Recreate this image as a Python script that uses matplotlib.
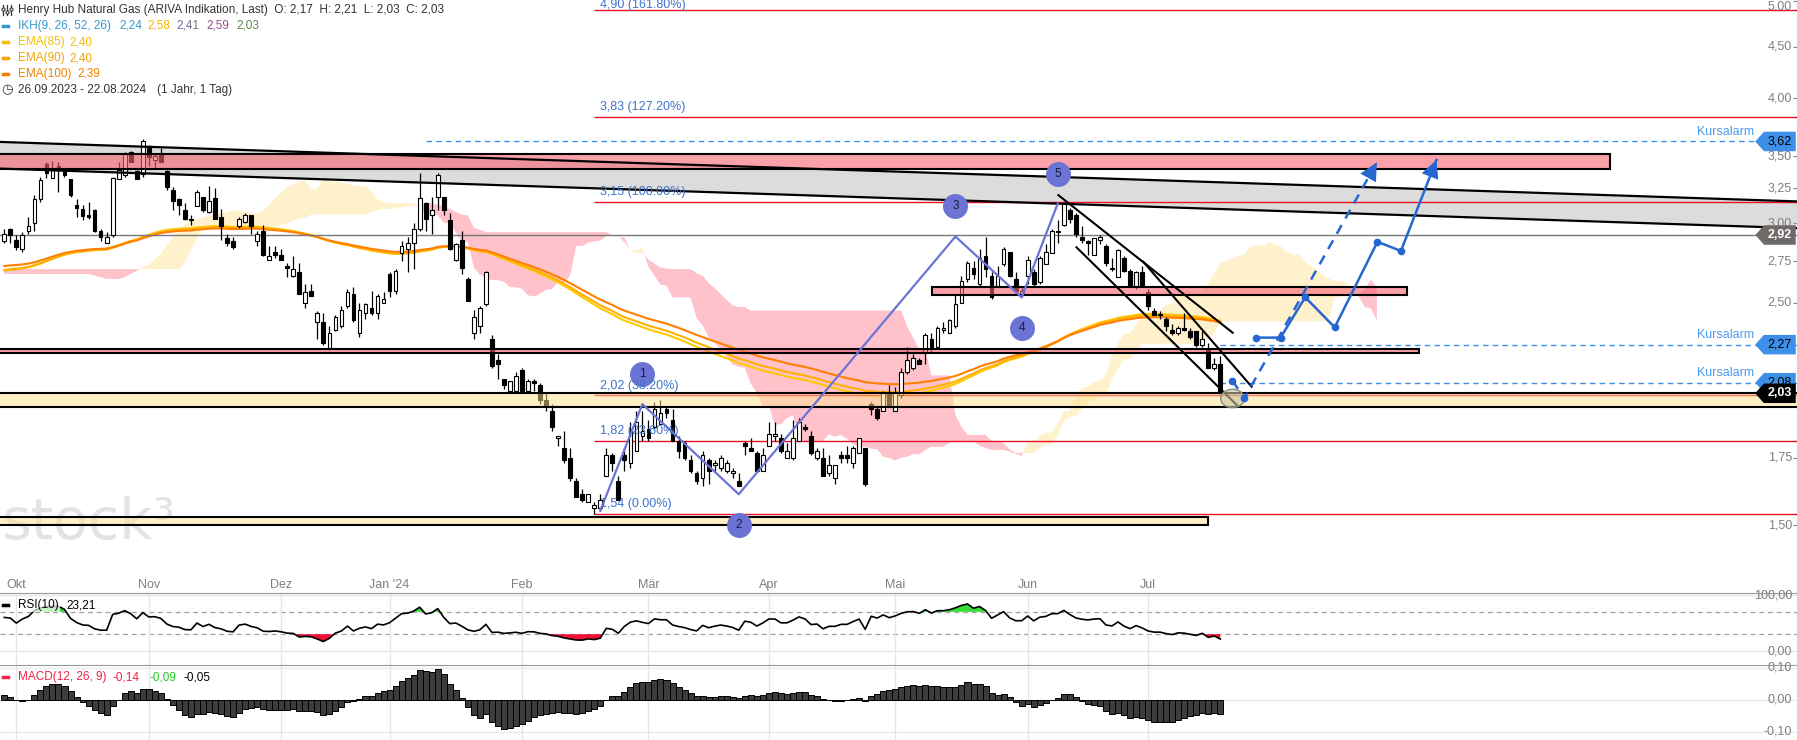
"""Henry Hub Natural Gas daily chart with IKH cloud, EMAs, RSI and MACD panels."""
import numpy as np
import pandas as pd
import matplotlib
matplotlib.use("Agg")
import matplotlib.pyplot as plt
from matplotlib.lines import Line2D
from matplotlib.patches import Rectangle
from matplotlib.path import Path
from matplotlib.ticker import NullLocator
from matplotlib.transforms import Affine2D, blended_transform_factory

plt.rcParams['font.family'] = ['Liberation Sans', 'DejaVu Sans']

# ---------------- daily OHLC ----------------
opens = [
    2.88, 2.96, 2.89, 2.83, 2.95, 3.00, 3.17, 3.44, 3.33, 3.42,
    3.38, 3.32, 3.13, 3.10, 3.06, 3.09, 2.95, 2.87, 2.92, 3.32,
    3.35, 3.53, 3.38, 3.36, 3.57, 3.47, 3.52, 3.38, 3.24, 3.17,
    3.09, 3.03, 3.12, 3.19, 3.08, 3.18, 3.04, 2.90, 2.88, 2.98,
    3.01, 3.06, 2.88, 2.95, 2.76, 2.81, 2.79, 2.72, 2.66, 2.68,
    2.50, 2.57, 2.39, 2.39, 2.25, 2.35, 2.37, 2.48, 2.55, 2.33,
    2.44, 2.47, 2.44, 2.50, 2.67, 2.57, 2.80, 2.83, 2.87, 2.96,
    3.14, 3.06, 3.19, 3.19, 3.02, 2.76, 2.89, 2.64, 2.33, 2.37,
    2.49, 2.30, 2.19, 2.10, 2.04, 2.04, 2.14, 2.04, 2.09, 2.07,
    2.00, 1.95, 1.83, 1.79, 1.75, 1.66, 1.61, 1.58, 1.56, 1.56,
    1.68, 1.76, 1.66, 1.76, 1.73, 1.78, 1.84, 1.87, 1.88, 1.89,
    1.96, 1.91, 1.82, 1.81, 1.74, 1.69, 1.67, 1.74, 1.72, 1.71,
    1.70, 1.69, 1.66, 1.81, 1.79, 1.77, 1.70, 1.80, 1.84, 1.83,
    1.75, 1.75, 1.82, 1.88, 1.84, 1.75, 1.75, 1.69, 1.67, 1.76,
    1.76, 1.73, 1.77, 1.79, 1.98, 1.96, 1.95, 2.03, 1.95, 2.02,
    2.13, 2.15, 2.19, 2.23, 2.30, 2.26, 2.35, 2.33, 2.37, 2.50,
    2.64, 2.71, 2.61, 2.78, 2.66, 2.59, 2.73, 2.81, 2.64, 2.55,
    2.66, 2.68, 2.62, 2.73, 2.80, 2.94, 2.99, 3.09, 3.06, 2.91,
    2.88, 2.79, 2.89, 2.85, 2.70, 2.65, 2.77, 2.69, 2.60, 2.68,
    2.56, 2.45, 2.43, 2.41, 2.35, 2.33, 2.36, 2.34, 2.34, 2.27,
    2.25, 2.15, 2.17]
highs = [
    2.96, 2.97, 2.92, 2.94, 3.04, 3.20, 3.34, 3.45, 3.46, 3.45,
    3.38, 3.32, 3.17, 3.13, 3.15, 3.10, 2.96, 2.94, 3.34, 3.45,
    3.53, 3.54, 3.39, 3.64, 3.59, 3.52, 3.57, 3.39, 3.26, 3.18,
    3.14, 3.06, 3.24, 3.19, 3.27, 3.25, 3.10, 2.93, 2.91, 3.04,
    3.07, 3.06, 2.95, 2.99, 2.85, 2.85, 2.83, 2.74, 2.78, 2.74,
    2.61, 2.61, 2.45, 2.44, 2.37, 2.43, 2.48, 2.58, 2.59, 2.50,
    2.50, 2.57, 2.55, 2.56, 2.68, 2.70, 2.88, 2.91, 3.00, 3.37,
    3.15, 3.19, 3.37, 3.19, 3.07, 2.87, 2.95, 2.65, 2.46, 2.48,
    2.69, 2.32, 2.22, 2.10, 2.09, 2.13, 2.15, 2.10, 2.10, 2.08,
    2.03, 1.98, 1.84, 1.86, 1.79, 1.67, 1.63, 1.61, 1.58, 1.61,
    1.79, 1.77, 1.68, 1.79, 1.90, 1.95, 1.95, 1.91, 1.99, 2.00,
    1.97, 1.96, 1.84, 1.82, 1.76, 1.70, 1.78, 1.75, 1.74, 1.76,
    1.74, 1.71, 1.69, 1.82, 1.83, 1.78, 1.79, 1.90, 1.90, 1.85,
    1.81, 1.91, 1.92, 1.89, 1.86, 1.79, 1.79, 1.76, 1.72, 1.78,
    1.80, 1.80, 1.83, 1.79, 1.99, 1.97, 2.04, 2.07, 2.06, 2.15,
    2.26, 2.22, 2.20, 2.33, 2.33, 2.37, 2.39, 2.41, 2.55, 2.66,
    2.75, 2.75, 2.83, 2.91, 2.68, 2.72, 2.84, 2.81, 2.68, 2.60,
    2.78, 2.70, 2.78, 2.86, 2.96, 3.02, 3.15, 3.11, 3.07, 2.98,
    2.89, 2.90, 2.92, 2.86, 2.77, 2.83, 2.78, 2.70, 2.69, 2.72,
    2.58, 2.47, 2.45, 2.42, 2.38, 2.37, 2.44, 2.36, 2.34, 2.34,
    2.28, 2.20, 2.21]
lows = [
    2.87, 2.87, 2.82, 2.81, 2.93, 2.95, 3.15, 3.33, 3.33, 3.22,
    3.34, 3.19, 3.04, 3.02, 3.03, 2.94, 2.88, 2.87, 2.91, 3.32,
    3.34, 3.45, 3.32, 3.34, 3.42, 3.40, 3.45, 3.24, 3.09, 3.06,
    3.02, 2.99, 3.12, 3.08, 3.07, 3.03, 2.89, 2.85, 2.83, 2.97,
    3.00, 2.93, 2.85, 2.78, 2.76, 2.77, 2.76, 2.65, 2.65, 2.55,
    2.47, 2.54, 2.30, 2.27, 2.24, 2.34, 2.36, 2.47, 2.39, 2.31,
    2.41, 2.43, 2.41, 2.50, 2.53, 2.55, 2.75, 2.68, 2.70, 2.95,
    2.95, 2.93, 3.09, 3.06, 2.82, 2.75, 2.67, 2.51, 2.30, 2.33,
    2.48, 2.15, 2.10, 2.05, 2.04, 2.03, 2.03, 2.03, 2.04, 1.98,
    1.95, 1.86, 1.80, 1.73, 1.66, 1.60, 1.58, 1.58, 1.54, 1.55,
    1.68, 1.70, 1.59, 1.70, 1.71, 1.78, 1.82, 1.82, 1.87, 1.89,
    1.92, 1.82, 1.75, 1.74, 1.69, 1.65, 1.64, 1.65, 1.70, 1.70,
    1.69, 1.67, 1.64, 1.76, 1.78, 1.70, 1.70, 1.80, 1.82, 1.77,
    1.75, 1.74, 1.82, 1.86, 1.76, 1.74, 1.68, 1.68, 1.65, 1.73,
    1.73, 1.71, 1.77, 1.64, 1.93, 1.91, 1.95, 1.97, 1.95, 2.01,
    2.12, 2.14, 2.17, 2.17, 2.23, 2.26, 2.33, 2.33, 2.36, 2.50,
    2.62, 2.64, 2.60, 2.65, 2.52, 2.59, 2.72, 2.65, 2.56, 2.53,
    2.61, 2.60, 2.61, 2.73, 2.80, 2.87, 2.98, 3.00, 2.91, 2.87,
    2.79, 2.79, 2.86, 2.72, 2.69, 2.65, 2.68, 2.59, 2.58, 2.59,
    2.46, 2.43, 2.41, 2.34, 2.32, 2.32, 2.34, 2.30, 2.26, 2.26,
    2.15, 2.14, 2.03]
closes = [
    2.93, 2.92, 2.84, 2.92, 2.98, 3.17, 3.31, 3.37, 3.39, 3.39,
    3.35, 3.20, 3.11, 3.05, 3.04, 2.95, 2.91, 2.91, 3.33, 3.39,
    3.52, 3.45, 3.32, 3.62, 3.49, 3.50, 3.45, 3.26, 3.16, 3.13,
    3.03, 3.02, 3.22, 3.09, 3.16, 3.03, 2.98, 2.87, 2.84, 3.03,
    3.06, 2.98, 2.93, 2.79, 2.78, 2.79, 2.76, 2.71, 2.70, 2.55,
    2.56, 2.54, 2.44, 2.28, 2.33, 2.42, 2.46, 2.56, 2.40, 2.46,
    2.49, 2.44, 2.54, 2.52, 2.57, 2.69, 2.85, 2.87, 2.96, 3.18,
    3.03, 3.09, 3.35, 3.09, 2.83, 2.86, 2.71, 2.51, 2.42, 2.47,
    2.68, 2.16, 2.17, 2.07, 2.09, 2.11, 2.04, 2.09, 2.08, 2.00,
    1.97, 1.88, 1.84, 1.74, 1.67, 1.60, 1.59, 1.61, 1.57, 1.59,
    1.76, 1.73, 1.59, 1.74, 1.86, 1.90, 1.86, 1.83, 1.96, 1.94,
    1.94, 1.82, 1.78, 1.75, 1.70, 1.66, 1.76, 1.70, 1.73, 1.75,
    1.73, 1.70, 1.64, 1.80, 1.78, 1.70, 1.76, 1.85, 1.85, 1.78,
    1.78, 1.83, 1.90, 1.87, 1.77, 1.78, 1.68, 1.72, 1.72, 1.75,
    1.75, 1.79, 1.83, 1.65, 1.96, 1.92, 2.03, 1.97, 2.03, 2.13,
    2.19, 2.20, 2.17, 2.32, 2.26, 2.36, 2.36, 2.40, 2.49, 2.63,
    2.74, 2.67, 2.77, 2.70, 2.53, 2.66, 2.83, 2.66, 2.57, 2.57,
    2.76, 2.61, 2.77, 2.81, 2.95, 2.95, 3.14, 3.03, 2.93, 2.89,
    2.87, 2.90, 2.91, 2.74, 2.71, 2.82, 2.69, 2.60, 2.68, 2.60,
    2.48, 2.43, 2.43, 2.37, 2.33, 2.36, 2.35, 2.31, 2.27, 2.30,
    2.15, 2.17, 2.03]

# trading calendar of the bars
first_day, last_day = '2023-09-28', '2024-07-17'
holidays = ['2023-12-25', '2023-12-26', '2023-12-29', '2024-01-01',
            '2024-03-29', '2024-04-01', '2024-05-27']
month_names = {10: 'Okt', 11: 'Nov', 12: 'Dez', 1: "Jan '24", 2: 'Feb',
               3: 'Mär', 4: 'Apr', 5: 'Mai', 6: 'Jun', 7: 'Jul'}

# IKH cloud before the visible data allows computing it
span_a_early = [
    2.67, 2.67, 2.67, 2.67, 2.67, 2.67, 2.67, 2.67, 2.67, 2.67,
    2.67, 2.67, 2.67, 2.67, 2.67, 2.66, 2.65, 2.64, 2.64, 2.64,
    2.65, 2.67, 2.69, 2.71, 2.73, 2.76, 2.80, 2.85, 2.90, 2.95,
    2.99, 3.02, 3.03, 3.04, 3.05, 3.06, 3.07, 3.08, 3.09, 3.09,
    3.08, 3.07, 3.07, 3.09, 3.13, 3.18, 3.22, 3.26, 3.28, 3.30,
    3.31]
span_b_early = [
    2.70, 2.70, 2.70, 2.70, 2.70, 2.70, 2.70, 2.70, 2.70, 2.70,
    2.70, 2.70, 2.70, 2.70, 2.70, 2.70, 2.70, 2.70, 2.70, 2.70,
    2.70, 2.70, 2.70, 2.70, 2.70, 2.70, 2.70, 2.70, 2.70, 2.70,
    2.74, 2.82, 2.90, 2.96, 2.97, 2.97, 2.97, 2.97, 2.97, 2.97,
    2.97, 2.97, 2.97, 2.97, 2.97, 2.98, 2.99, 3.00, 3.02, 3.03,
    3.04, 3.06, 3.06, 3.06, 3.06, 3.06, 3.06, 3.06, 3.06, 3.06,
    3.06, 3.08, 3.09, 3.10, 3.10, 3.11, 3.11, 3.12, 3.12, 3.13,
    3.14, 3.14, 3.13, 3.12, 3.10, 3.08, 3.06]

ema_periods = [85, 90, 100]
ema_seeds = [2.685, 2.69, 2.715]
rsi_seed_gain, rsi_seed_loss = 0.036, 0.024
macd_seed_fast, macd_seed_slow, macd_seed_signal = 2.92, 2.87, 0.03

# legend values as printed on the chart
rsi_last = '23,21'
macd_last = ['-0,14', '-0,09', '-0,05']

# drawn objects (bar index, price)
fib_start = 98
fib_levels = [1.54, 1.82, 2.02, 3.15, 3.83, 4.90]
fib_pcts = ['0.00%', '23.60%', '38.20%', '100.00%', '127.20%', '161.80%']
zone_start = [None, 154.1, None, None, None]
zone_end = [266.7, 233.0, 235.0, None, 200.0]
zone_low = [3.40, 2.545, 2.225, 1.965, 1.50]
zone_high = [3.52, 2.59, 2.25, 2.03, 1.527]
zone_kind = ['pink', 'pink', 'pink', 'cream', 'cream']
channel_upper = [3.618, 3.153]      # price at left / right edge
channel_lower = [3.403, 2.965]
alarm_levels = [3.62, 2.27, 2.08]
alarm_start = [70, 202, 202]
wave_x = [99, 106, 122, 158, 169, 175]
wave_p = [1.55, 1.98, 1.61, 2.91, 2.53, 3.14]
wave_labels = ['1', '2', '3', '4', '5']
wave_label_x = [106, 122, 158, 169, 175]
wave_label_p = [2.12, 1.50, 3.12, 2.36, 3.36]
trend_lines = [((175.1, 3.20), (204.05, 2.333)),
               ((178.1, 2.839), (205.0, 1.969)),
               ((189.2, 2.746), (207.2, 2.061))]
ellipse_at = (203.9, 2.007)
dash_path_x = [204.0, 206.0, 228.0]
dash_path_p = [2.09, 2.007, 3.45]
solid_path_x = [208.0, 212.0, 216.1, 221.0, 228.1, 232.0, 237.9]
solid_path_p = [2.307, 2.307, 2.531, 2.362, 2.875, 2.815, 3.47]
price_ticks = [1.5, 1.75, 2.5, 2.75, 3.0, 3.25, 3.5, 4.0, 4.5, 5.0]

W, H, DPI = 1797, 740, 100
BAR0, BAR_W = 4.3, 6.02      # pixel position of first bar, pixels per bar
X_LEFT, X_RIGHT = -BAR0 / BAR_W, (W - BAR0) / BAR_W

PINK = (247 / 255, 97 / 255, 113 / 255, 0.6)
CREAM = (1.0, 225 / 255, 145 / 255, 0.5)
CLOUD_UP, CLOUD_DN = '#fff1cc', '#ffc2cb'
BLUE = '#2567cf'
WAVE = '#6b74d4'
GRAY_TXT = '#7f7f7f'
HEAD_FS = 8.5


def fmt(v):
    return f'{v:.2f}'.replace('.', ',')


def ema(values, period, seed):
    a = 2.0 / (period + 1)
    out, prev = [], seed
    for v in values:
        prev = prev + a * (v - prev)
        out.append(prev)
    return np.array(out)


def tag_box(x0, y0, width, height, mutation_size):
    pad = 0.3 * mutation_size
    x0, y0 = x0 - pad, y0 - pad
    w, h = width + 2 * pad, height + 2 * pad
    verts = [(x0, y0), (x0 + w, y0), (x0 + w, y0 + h), (x0, y0 + h),
             (x0 - 0.45 * h, y0 + h / 2), (x0, y0)]
    return Path(verts, closed=True)


def main():
    n = len(closes)
    o, h, l, c = (np.array(v) for v in (opens, highs, lows, closes))
    idx = np.arange(n)

    dates = pd.bdate_range(first_day, last_day)
    dates = dates[~dates.isin(pd.to_datetime(holidays))][:n]
    m_ticks, m_labels = [], []
    for i in range(1, len(dates)):
        if dates[i].month != dates[i - 1].month:
            m_ticks.append(i)
            m_labels.append(month_names[dates[i].month])

    # --- indicators ---
    emas = [ema(c, p, s) for p, s in zip(ema_periods, ema_seeds)]
    hs, ls_ = pd.Series(h), pd.Series(l)
    tenkan = (hs.rolling(9).max() + ls_.rolling(9).min()) / 2
    kijun = (hs.rolling(26).max() + ls_.rolling(26).min()) / 2
    a_raw = ((tenkan + kijun) / 2).to_numpy()
    b_raw = ((hs.rolling(52).max() + ls_.rolling(52).min()) / 2).to_numpy()
    span_a = np.full(n + 26, np.nan)
    span_b = np.full(n + 26, np.nan)
    span_a[26:] = a_raw
    span_b[26:] = b_raw
    span_a[:len(span_a_early)] = span_a_early
    span_b[:len(span_b_early)] = span_b_early
    cloud_x = np.arange(n + 26)

    delta = np.diff(c, prepend=c[0])
    ag, al, rsi = rsi_seed_gain, rsi_seed_loss, []
    for d in delta:
        ag = (ag * 9 + max(d, 0)) / 10
        al = (al * 9 + max(-d, 0)) / 10
        rsi.append(100 - 100 / (1 + ag / al))
    rsi = np.array(rsi)

    macd = ema(c, 12, macd_seed_fast) - ema(c, 26, macd_seed_slow)
    signal = ema(macd, 9, macd_seed_signal)
    hist = macd - signal

    # --- layout ---
    fig = plt.figure(figsize=(W / DPI, H / DPI), dpi=DPI)
    ax = fig.add_axes([0, 1 - 573 / H, 1, 573 / H])
    ax_rsi = fig.add_axes([0, 1 - 665 / H, 1, 72 / H], sharex=ax)
    ax_macd = fig.add_axes([0, 0, 1, 75 / H], sharex=ax)

    ax.set_yscale('log')
    for s in ax.spines.values():
        s.set_visible(False)

    # cloud
    ax.fill_between(cloud_x, span_a, span_b, where=span_a >= span_b, interpolate=True,
                    color=CLOUD_UP, lw=0, zorder=1)
    ax.fill_between(cloud_x, span_a, span_b, where=span_a < span_b, interpolate=True,
                    color=CLOUD_DN, lw=0, zorder=1)

    ax.text(2 / W, (573 - 524) / 573, 'stock³', transform=ax.transAxes, fontsize=41,
            family='DejaVu Sans', color='#e3e3e3', ha='left', va='center', zorder=0.5)

    # grey descending channel
    ex = [X_LEFT - 1, X_RIGHT + 1]
    ax.fill([ex[0], ex[1], ex[1], ex[0]],
            [channel_upper[0], channel_upper[1], channel_lower[1], channel_lower[0]],
            color=(0.66, 0.66, 0.66, 0.4), lw=0, zorder=2)
    ax.plot(ex, channel_upper, color='black', lw=1.6, zorder=7)
    ax.plot(ex, channel_lower, color='black', lw=1.6, zorder=7)

    # EMAs
    for e, col in zip(emas, ['#ffc800', '#ffb000', '#ff8000']):
        ax.plot(idx, e, color=col, lw=1.5, zorder=3)

    # horizontal levels
    for lev, pct in zip(fib_levels, fib_pcts):
        ax.hlines(lev, fib_start, X_RIGHT + 1, colors='#e8102a', lw=1.0, zorder=3.5)
        dy = 7 if lev < 4.5 else 3
        ax.annotate(f'{fmt(lev)} ({pct})', (fib_start, lev), xytext=(4, dy),
                    textcoords='offset points', fontsize=9, color='#3f73c9',
                    ha='left', va='center', zorder=9)
    ax.hlines(2.92, X_LEFT - 1, X_RIGHT + 1, colors='#777777', lw=1.0, zorder=3.5)
    for lev, st in zip(alarm_levels, alarm_start):
        ax.hlines(lev, st, X_RIGHT + 1, colors='#3d8fe8', lw=1.0,
                  linestyles=[(0, (4, 3))], zorder=3.5)

    # candles
    up = c >= o
    body_lo = np.minimum(o, c)
    body_h = np.maximum(np.abs(c - o), 0.004)
    ax.vlines(idx, l, h, color='black', lw=0.9, zorder=4)
    ax.bar(idx[up], body_h[up], bottom=body_lo[up], width=0.62, color='white',
           edgecolor='black', lw=0.8, zorder=5)
    ax.bar(idx[~up], body_h[~up], bottom=body_lo[~up], width=0.62, color='black',
           edgecolor='black', lw=0.8, zorder=5)

    # zones
    for st, en, lo, hi, kind in zip(zone_start, zone_end, zone_low, zone_high, zone_kind):
        x0 = X_LEFT - 1 if st is None else st
        x1 = X_RIGHT + 1 if en is None else en
        ax.add_patch(Rectangle((x0, lo), x1 - x0, hi - lo,
                               facecolor=PINK if kind == 'pink' else CREAM,
                               edgecolor='black', lw=1.5, zorder=6))

    # Elliott waves
    ax.plot(wave_x, wave_p, color=WAVE, lw=1.6, zorder=7)
    for lab, x, p in zip(wave_labels, wave_label_x, wave_label_p):
        ax.plot([x], [p], marker='o', ms=18, mfc=WAVE, mec='none', zorder=8)
        ax.text(x, p, lab, fontsize=8.5, color='#1c1c3c', ha='center', va='center', zorder=9)

    for (x0, p0), (x1, p1) in trend_lines:
        ax.plot([x0, x1], [p0, p1], color='black', lw=1.5, zorder=7)

    ell = Path.unit_circle().transformed(Affine2D().scale(1.0, 0.78))
    ax.plot([ellipse_at[0]], [ellipse_at[1]], marker=ell, ms=17, ls='none',
            mfc=(0.78, 0.76, 0.64, 0.6), mec='#8a8a80', mew=1, zorder=7.5)

    # projections
    ax.plot(dash_path_x, dash_path_p, color=BLUE, lw=1.8, ls=(0, (4, 3)), zorder=8)
    ax.plot(dash_path_x[:-1], dash_path_p[:-1], 'o', color=BLUE, ms=4.5, zorder=8)
    ax.plot(solid_path_x, solid_path_p, color=BLUE, lw=1.8, zorder=8)
    ax.plot(solid_path_x[:-1], solid_path_p[:-1], 'o', color=BLUE, ms=4.5, zorder=8)
    for px, pp in ((dash_path_x, dash_path_p), (solid_path_x, solid_path_p)):
        ax.annotate('', xy=(px[-1], pp[-1]), xytext=(px[-2], pp[-2]),
                    arrowprops=dict(arrowstyle='-|>,head_length=0.8,head_width=0.4',
                                    mutation_scale=16, color=BLUE, lw=0,
                                    shrinkA=0, shrinkB=0), zorder=8)

    # right price axis
    ax.set_xlim(X_LEFT, X_RIGHT)
    ax.set_ylim(1.3435, 5.010)
    ax.yaxis.tick_right()
    ax.set_yticks(price_ticks)
    ax.yaxis.set_minor_locator(NullLocator())
    ax.tick_params(axis='y', direction='in', length=3, color=GRAY_TXT,
                   labelright=False, labelleft=False)
    ytr = blended_transform_factory(ax.transAxes, ax.transData)
    top = max(price_ticks)
    for t in price_ticks:
        ax.text(1 - 5 / W, t, fmt(t), transform=ytr, fontsize=9, color=GRAY_TXT,
                ha='right', va='top' if t == top else 'center', zorder=9, clip_on=False)

    # alarms and price tags
    for lev in alarm_levels:
        ax.annotate('Kursalarm', (1 - 43 / W, lev), xycoords=ytr, xytext=(0, 7),
                    textcoords='offset points', fontsize=9, color='#4a9af0',
                    ha='right', va='center', zorder=9)
    tags = [(3.62, '#3d8fe8', 'black', 'normal'), (2.92, '#6e6a68', 'white', 'bold'),
            (2.27, '#3d8fe8', 'black', 'normal'), (2.08, '#3d8fe8', 'black', 'normal'),
            (2.03, 'black', 'white', 'bold')]
    for k, (lev, bg, fg, wt) in enumerate(tags):
        ax.text(1 - 5 / W, lev, fmt(lev), transform=ytr, fontsize=9, color=fg,
                fontweight=wt, ha='right', va='center', zorder=10 + k,
                bbox=dict(boxstyle=tag_box, fc=bg, ec='none'))

    # month labels
    ax.set_xticks(m_ticks)
    ax.set_xticklabels(m_labels)
    ax.tick_params(axis='x', length=0, pad=4, labelsize=9, labelcolor=GRAY_TXT)

    # --- RSI panel ---
    ax_rsi.set_ylim(-25, 103.6)
    for s in ax_rsi.spines.values():
        s.set_visible(False)
    ax_rsi.spines['top'].set_visible(True)
    ax_rsi.spines['top'].set_color('#9a9a9a')
    ax_rsi.grid(axis='x', color='#e6e6e6', lw=1)
    ax_rsi.set_yticks([])
    ax_rsi.tick_params(axis='x', length=0, labelbottom=False)
    for lev in (100, 0):
        ax_rsi.axhline(lev, color='#e6e6e6', lw=1, zorder=1)
    for lev in (70, 30):
        ax_rsi.axhline(lev, color='#a0a0a0', lw=0.9, ls=(0, (4, 3)), zorder=1)
    ax_rsi.fill_between(idx, rsi, 70, where=rsi > 70, interpolate=True, color='#33dd33',
                        lw=0, zorder=2)
    ax_rsi.fill_between(idx, rsi, 30, where=rsi < 30, interpolate=True, color='#ee1133',
                        lw=0, zorder=2)
    ax_rsi.plot(idx, rsi, color='black', lw=1.2, zorder=3)
    rtr = blended_transform_factory(ax_rsi.transAxes, ax_rsi.transData)
    for lev, lab in ((100, '100,00'), (0, '0,00')):
        ax_rsi.text(1 - 5 / W, lev, lab, transform=rtr, fontsize=9, color=GRAY_TXT,
                    ha='right', va='center', clip_on=False)
    ry = 1 - 12 / 72
    ax_rsi.add_line(Line2D([3 / W, 8 / W], [ry, ry], transform=ax_rsi.transAxes,
                           lw=2.5, color='black', zorder=6))
    ax_rsi.text(18 / W, ry, 'RSI(10)', transform=ax_rsi.transAxes, fontsize=HEAD_FS,
                color='black', va='center', zorder=5,
                bbox=dict(boxstyle='square,pad=0.1', fc='white', ec='none', alpha=0.7))
    ax_rsi.text(66 / W, ry, rsi_last, transform=ax_rsi.transAxes, fontsize=HEAD_FS,
                color='black', va='center', zorder=5)

    # --- MACD panel ---
    ax_macd.set_ylim(-0.125, 0.108)
    for s in ax_macd.spines.values():
        s.set_visible(False)
    ax_macd.spines['top'].set_visible(True)
    ax_macd.spines['top'].set_color('#9a9a9a')
    ax_macd.grid(axis='x', color='#e6e6e6', lw=1)
    ax_macd.set_yticks([])
    ax_macd.tick_params(axis='x', length=0, labelbottom=False)
    for lev in (0.1, 0.0, -0.1):
        ax_macd.axhline(lev, color='#ebebeb', lw=1, zorder=1)
    ax_macd.bar(idx, hist, width=1.0, color='#3c3c3c', edgecolor='black', lw=0.7, zorder=2)
    mtr = blended_transform_factory(ax_macd.transAxes, ax_macd.transData)
    for lev in (0.1, 0.0, -0.1):
        ax_macd.text(1 - 5 / W, lev, fmt(lev), transform=mtr, fontsize=9, color=GRAY_TXT,
                     ha='right', va='center', clip_on=False)
    my = 1 - 12 / 75
    ax_macd.add_line(Line2D([3 / W, 8 / W], [my, my], transform=ax_macd.transAxes,
                            lw=2.5, color='#ee2244', zorder=6))
    ax_macd.text(18 / W, my, 'MACD(12, 26, 9)', transform=ax_macd.transAxes,
                 fontsize=HEAD_FS, color='#ee2244', va='center', zorder=5,
                 bbox=dict(boxstyle='square,pad=0.1', fc='white', ec='none', alpha=0.7))
    for xp, val, col in zip((113, 149, 183), macd_last, ('#ee2244', '#22cc22', 'black')):
        ax_macd.text(xp / W, my, val, transform=ax_macd.transAxes, fontsize=HEAD_FS,
                     color=col, va='center', zorder=5)

    # --- header legend ---
    def ftxt(x, y, s, col, fs=HEAD_FS):
        fig.text(x / W, 1 - y / H, s, fontsize=fs, color=col, ha='left', va='center')

    def dash(y, col):
        fig.add_artist(Line2D([3 / W, 8 / W], [1 - y / H] * 2, lw=2.5, color=col))

    for xi, yb in ((3, 9), (7, 12), (11, 9)):
        fig.add_artist(Line2D([xi / W] * 2, [1 - 15 / H, 1 - 5 / H], lw=0.9, color='#333333'))
        fig.add_artist(Line2D([xi / W], [1 - yb / H], marker='o', ms=2.2, mfc='white',
                              mec='#333333', mew=0.8))
    ftxt(18.3, 10, 'Henry Hub Natural Gas (ARIVA Indikation, Last)  O: 2,17  H: 2,21  '
         'L: 2,03  C: 2,03', '#333333')
    dash(25.7, '#3399cc')
    ikh_vals = [(18.3, 'IKH(9, 26, 52, 26)', '#3399cc'), (119.3, '2,24', '#3399cc'),
                (147.7, '2,58', '#f0b800'), (176.7, '2,41', '#6e6e96'),
                (206.7, '2,59', '#9a4a8a'), (236.0, '2,03', '#5a8a4a')]
    for x, s, col in ikh_vals:
        ftxt(x, 25.7, s, col)
    ema_rows = [(42.3, 'EMA(85)', '2,40', 69.3, '#f5be00'),
                (58.3, 'EMA(90)', '2,40', 69.3, '#f5a500'),
                (74.0, 'EMA(100)', '2,39', 77.7, '#f08200')]
    for y, name, val, xv, col in ema_rows:
        dash(y, col)
        ftxt(18.3, y, name, col)
        ftxt(xv, y, val, col)
    ftxt(1.5, 90, '◷', '#333333', fs=9.5)
    ftxt(18.3, 90, '26.09.2023 - 22.08.2024', '#333333')
    ftxt(157.3, 90, '(1 Jahr, 1 Tag)', '#333333')

    fig.savefig('out.png', dpi=DPI)


if __name__ == '__main__':
    main()
